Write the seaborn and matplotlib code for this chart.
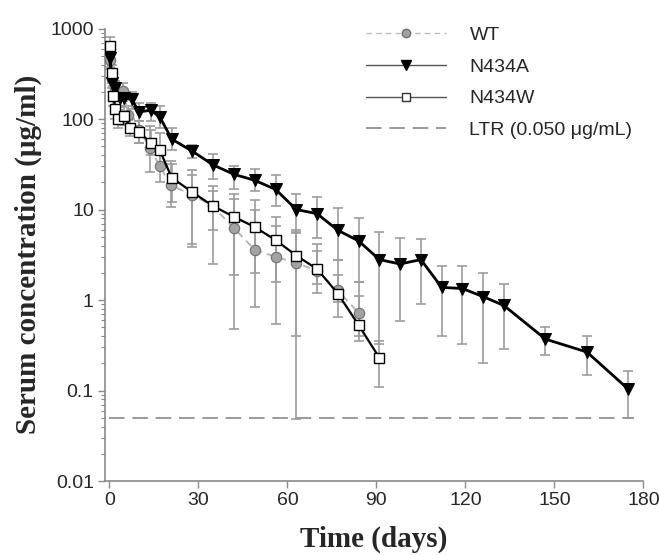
#!/usr/bin/env python3
"""
Serum concentration vs time for WT, N434A and N434W (log scale),
with error bars and the lower limit line (LTR).
"""

import numpy as np
import pandas as pd
import matplotlib
matplotlib.use('Agg')
import matplotlib.pyplot as plt
import seaborn as sns
from matplotlib.lines import Line2D
from matplotlib.ticker import LogLocator, NullFormatter

# --- data ---
days_wt = [0.04, 1, 2, 4.7, 6.4, 10, 13.7, 17, 20.7, 28, 35, 42, 49, 56, 63, 70, 77, 84]
conc_wt = [450, 280, 210, 203, 112, 75, 48, 30, 18.5, 14.5, 10.8, 6.2, 3.6, 3.0, 2.57, 2.1, 1.28, 0.72]
lo_wt = [360, 220, 170, 160, 85, 55, 26, 20, 10.6, 3.9, 6.0, 0.48, 0.84, 0.55, 0.049, 1.2, 0.65, 0.35]
hi_wt = [560, 350, 260, 250, 140, 95, 83, 45, 34, 27, 16, 15, 12.6, 6.5, 5.5, 3.5, 2.75, 1.6]

days_a = [0.04, 1, 2, 3.5, 5, 7.5, 10, 14, 17, 21, 28, 35, 42, 49, 56, 63, 70,
          77, 84, 91, 98, 105, 112, 119, 126, 133, 147, 161, 175]
conc_a = [470, 250, 220, 170, 170, 165, 120, 125, 105, 60, 44, 31, 24.5, 21, 16.7,
          10, 9, 5.9, 4.5, 2.8, 2.5, 2.8, 1.38, 1.34, 1.09, 0.87, 0.37, 0.266, 0.103]
lo_a = [380, 200, 180, 140, 140, 130, 95, 95, 80, 45, 37, 22, 17, 16, 11,
        5.6, 4.9, 2.75, 1.6, 0.33, 0.58, 0.9, 0.4, 0.33, 0.2, 0.29, 0.25, 0.15, 0.05]
hi_a = [560, 300, 260, 210, 200, 200, 150, 150, 140, 80, 52, 41, 30.5, 28, 24,
        15, 13.6, 10.4, 8.1, 5.6, 4.9, 4.7, 2.38, 2.38, 2.0, 1.5, 0.5, 0.4, 0.163]

days_w = [0.04, 0.7, 1.3, 2, 3, 5, 7, 10, 14, 17, 21, 28, 35, 42, 49, 56, 63, 70, 77, 84, 91]
conc_w = [640, 320, 180, 130, 100, 108, 80, 71, 55, 45, 22.5, 15.5, 10.9, 8.3, 6.4,
          4.6, 3.1, 2.2, 1.18, 0.53, 0.23]
lo_w = [480, 250, 140, 100, 80, 85, 65, 55, 40, 30, 12, 4.2, 2.5, 1.9, 2.0,
        1.6, 0.4, 1.5, 0.96, 0.4, 0.11]
hi_w = [800, 400, 230, 170, 125, 135, 100, 95, 75, 70, 32, 24, 18.4, 13, 9.8,
        8.2, 5.9, 4.2, 1.9, 1.1, 0.35]

ltr_value = 0.05
ltr_days = [0, 177]

labels = ['WT', 'N434A', 'N434W', 'LTR (0.050 \u03bcg/mL)']
x_ticks = [0, 30, 60, 90, 120, 150, 180]
y_ticks = [0.01, 0.1, 1, 10, 100, 1000]
y_tick_labels = ['0.01', '0.1', '1', '10', '100', '1000']

ERR_COLOR = '#9c9c9c'
AXIS_COLOR = '#8a8a8a'


def draw_errors(ax, days, lo, mid, hi):
    """Asymmetric gray error bars behind the lines."""
    mid = np.asarray(mid)
    yerr = [mid - np.asarray(lo), np.asarray(hi) - mid]
    ax.errorbar(days, mid, yerr=yerr, fmt='none', ecolor=ERR_COLOR,
                elinewidth=1.2, capsize=3.5, capthick=1.2, zorder=1)


def main():
    sns.set_style('ticks')
    plt.rcParams['font.family'] = ['Liberation Sans', 'DejaVu Sans']

    fig = plt.figure(figsize=(6.59, 5.55), dpi=100)
    ax = fig.add_axes([0.1593, 0.1333, 0.8169, 0.8153])

    draw_errors(ax, days_wt, lo_wt, conc_wt, hi_wt)
    draw_errors(ax, days_a, lo_a, conc_a, hi_a)
    draw_errors(ax, days_w, lo_w, conc_w, hi_w)

    # LTR line
    ltr = pd.DataFrame({'day': ltr_days, 'conc': [ltr_value] * len(ltr_days)})
    sns.lineplot(data=ltr, x='day', y='conc', ax=ax, color='#9a9a9a',
                 linewidth=1.4, dashes=False, zorder=2)
    ax.lines[-1].set_dashes((8, 4))

    sns.lineplot(x=days_wt, y=conc_wt, ax=ax, color='#b3b3b3', linewidth=1.3,
                 marker='o', markersize=7.5, markerfacecolor='#a3a3a3',
                 markeredgecolor='#6e6e6e', markeredgewidth=0.8, zorder=3)
    ax.lines[-1].set_dashes((4, 3))

    sns.lineplot(x=days_a, y=conc_a, ax=ax, color='black', linewidth=2.0,
                 marker='v', markersize=8.5, markerfacecolor='black',
                 markeredgecolor='black', zorder=4)

    sns.lineplot(x=days_w, y=conc_w, ax=ax, color='black', linewidth=1.6,
                 marker='s', markersize=7.5, markerfacecolor='white',
                 markeredgecolor='black', markeredgewidth=1.0, zorder=5)

    ax.set_yscale('log')
    ax.set_xlim(-1.5, 180)
    ax.set_ylim(0.01, 1000)
    ax.set_xticks(x_ticks)
    ax.set_xticklabels([str(t) for t in x_ticks])
    ax.set_yticks(y_ticks)
    ax.set_yticklabels(y_tick_labels)
    ax.yaxis.set_minor_locator(LogLocator(base=10, subs=np.arange(2, 10)))
    ax.yaxis.set_minor_formatter(NullFormatter())

    ax.tick_params(axis='both', which='major', labelsize=14, color=AXIS_COLOR,
                   length=5, width=1, direction='out', pad=3)
    ax.tick_params(axis='y', which='minor', color=AXIS_COLOR, length=3, width=0.8)
    for side in ['left', 'bottom']:
        ax.spines[side].set_color(AXIS_COLOR)
        ax.spines[side].set_linewidth(1.2)
    sns.despine(ax=ax)

    ax.set_xlabel('Time (days)', fontsize=21, fontweight='bold',
                  family=['Liberation Serif', 'DejaVu Serif'], labelpad=12)
    ax.set_ylabel('Serum concentration (\u03bcg/ml)', fontsize=21, fontweight='bold',
                  family=['Liberation Serif', 'DejaVu Serif'], labelpad=6)

    # legend with thin handles like the original
    handles = [
        Line2D([], [], color='#bdbdbd', lw=1.0, dashes=(4, 3), marker='o',
               markersize=6, markerfacecolor='#a3a3a3', markeredgecolor='#707070'),
        Line2D([], [], color='#555555', lw=1.0, marker='v', markersize=7,
               markerfacecolor='black', markeredgecolor='black'),
        Line2D([], [], color='#555555', lw=1.0, marker='s', markersize=6,
               markerfacecolor='white', markeredgecolor='#333333'),
        Line2D([], [], color='#9a9a9a', lw=1.4, dashes=(8, 4)),
    ]
    fig.legend(handles, labels, loc='upper left', bbox_to_anchor=(0.556, 0.952),
               frameon=False, fontsize=14, handlelength=4.1, handletextpad=1.2,
               labelspacing=0.72, borderpad=0, borderaxespad=0)

    fig.savefig('out.png', dpi=100)
    plt.close(fig)


if __name__ == '__main__':
    main()
